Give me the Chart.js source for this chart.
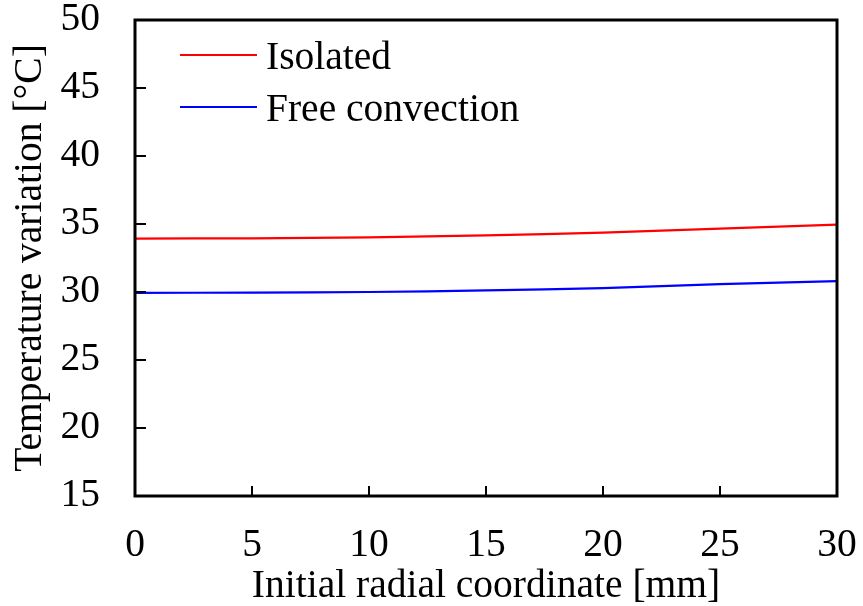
<!DOCTYPE html>
<html>
<head>
<meta charset="utf-8">
<script src="https://cdn.jsdelivr.net/npm/chart.js@4"></script>
<style>
  body { margin: 0; background: #fff; }
  canvas { display: block; }
</style>
</head>
<body>
<canvas id="chart" width="863" height="606"></canvas>
<script>
// Radial coordinate [mm] and temperature variation [°C]
const radius = [0, 5, 10, 15, 20, 25, 30];
const isolated = [33.93, 33.95, 34.02, 34.17, 34.37, 34.66, 34.96];
const freeConvection = [29.93, 29.96, 30.0, 30.12, 30.29, 30.58, 30.8];
const seriesNames = ['Isolated', 'Free convection'];
const seriesColors = ['#ff0000', '#0000ff'];

const serif = 'Liberation Serif, Times New Roman, serif';

function toPoints(xs, ys) {
    return xs.map((x, i) => ({ x: x, y: ys[i] }));
}

// Box around the plot, inward ticks and the legend inside the plot
const framePlugin = {
    id: 'frame',
    afterDraw(chart) {
        const ctx = chart.ctx;
        const area = chart.chartArea;
        const xs = chart.scales.x;
        const ys = chart.scales.y;
        ctx.save();
        ctx.strokeStyle = '#000';
        ctx.lineWidth = 2;
        xs.ticks.forEach(t => {
            const px = xs.getPixelForValue(t.value);
            ctx.beginPath();
            ctx.moveTo(px, area.bottom);
            ctx.lineTo(px, area.bottom - 10);
            ctx.stroke();
        });
        ys.ticks.forEach(t => {
            const py = ys.getPixelForValue(t.value);
            ctx.beginPath();
            ctx.moveTo(area.left, py);
            ctx.lineTo(area.left + 11, py);
            ctx.stroke();
        });
        ctx.lineWidth = 3;
        ctx.strokeRect(area.left, area.top, area.right - area.left, area.bottom - area.top);

        // legend
        ctx.font = '39.5px ' + serif;
        ctx.textBaseline = 'alphabetic';
        ctx.textAlign = 'left';
        chart.data.datasets.forEach((ds, i) => {
            const y = area.top + 35 + i * 52;
            ctx.strokeStyle = ds.borderColor;
            ctx.lineWidth = 2;
            ctx.beginPath();
            ctx.moveTo(area.left + 45, y);
            ctx.lineTo(area.left + 122, y);
            ctx.stroke();
            ctx.fillStyle = '#000';
            ctx.fillText(ds.label, area.left + 131, y + 13.5);
        });
        ctx.restore();
    }
};

new Chart(document.getElementById('chart').getContext('2d'), {
    type: 'line',
    data: {
        datasets: [
            {
                label: seriesNames[0],
                data: toPoints(radius, isolated),
                borderColor: seriesColors[0],
                borderWidth: 2.2,
                pointRadius: 0,
                tension: 0.4
            },
            {
                label: seriesNames[1],
                data: toPoints(radius, freeConvection),
                borderColor: seriesColors[1],
                borderWidth: 2.2,
                pointRadius: 0,
                tension: 0.4
            }
        ]
    },
    options: {
        responsive: false,
        animation: false,
        layout: { padding: { top: 20, right: 26, left: 0, bottom: 0 } },
        plugins: {
            legend: { display: false },
            tooltip: { enabled: false }
        },
        scales: {
            x: {
                type: 'linear',
                min: 0,
                max: 30,
                ticks: {
                    stepSize: 5,
                    color: '#000',
                    padding: 26,
                    font: { family: serif, size: 39.5 }
                },
                grid: { display: true, drawOnChartArea: false, drawTicks: false },
                border: { display: false },
                title: {
                    display: true,
                    text: 'Initial radial coordinate [mm]',
                    color: '#000',
                    font: { family: serif, size: 39.5, lineHeight: 1 },
                    padding: { top: 0, bottom: 0 }
                },
                afterFit(scale) {
                    scale.height = 110;
                    scale.paddingLeft = 0;
                    scale.paddingRight = 0;
                }
            },
            y: {
                min: 15,
                max: 50,
                ticks: {
                    stepSize: 5,
                    color: '#000',
                    padding: 35,
                    font: { family: serif, size: 39.5 }
                },
                grid: { display: true, drawOnChartArea: false, drawTicks: false },
                border: { display: false },
                title: {
                    display: true,
                    text: 'Temperature variation [°C]',
                    color: '#000',
                    font: { family: serif, size: 39.5, lineHeight: 1.2 },
                    padding: { top: 7, bottom: 0 }
                },
                afterFit(scale) {
                    scale.width = 135;
                    scale.paddingTop = 0;
                    scale.paddingBottom = 0;
                }
            }
        }
    },
    plugins: [framePlugin]
});
</script>
</body>
</html>
